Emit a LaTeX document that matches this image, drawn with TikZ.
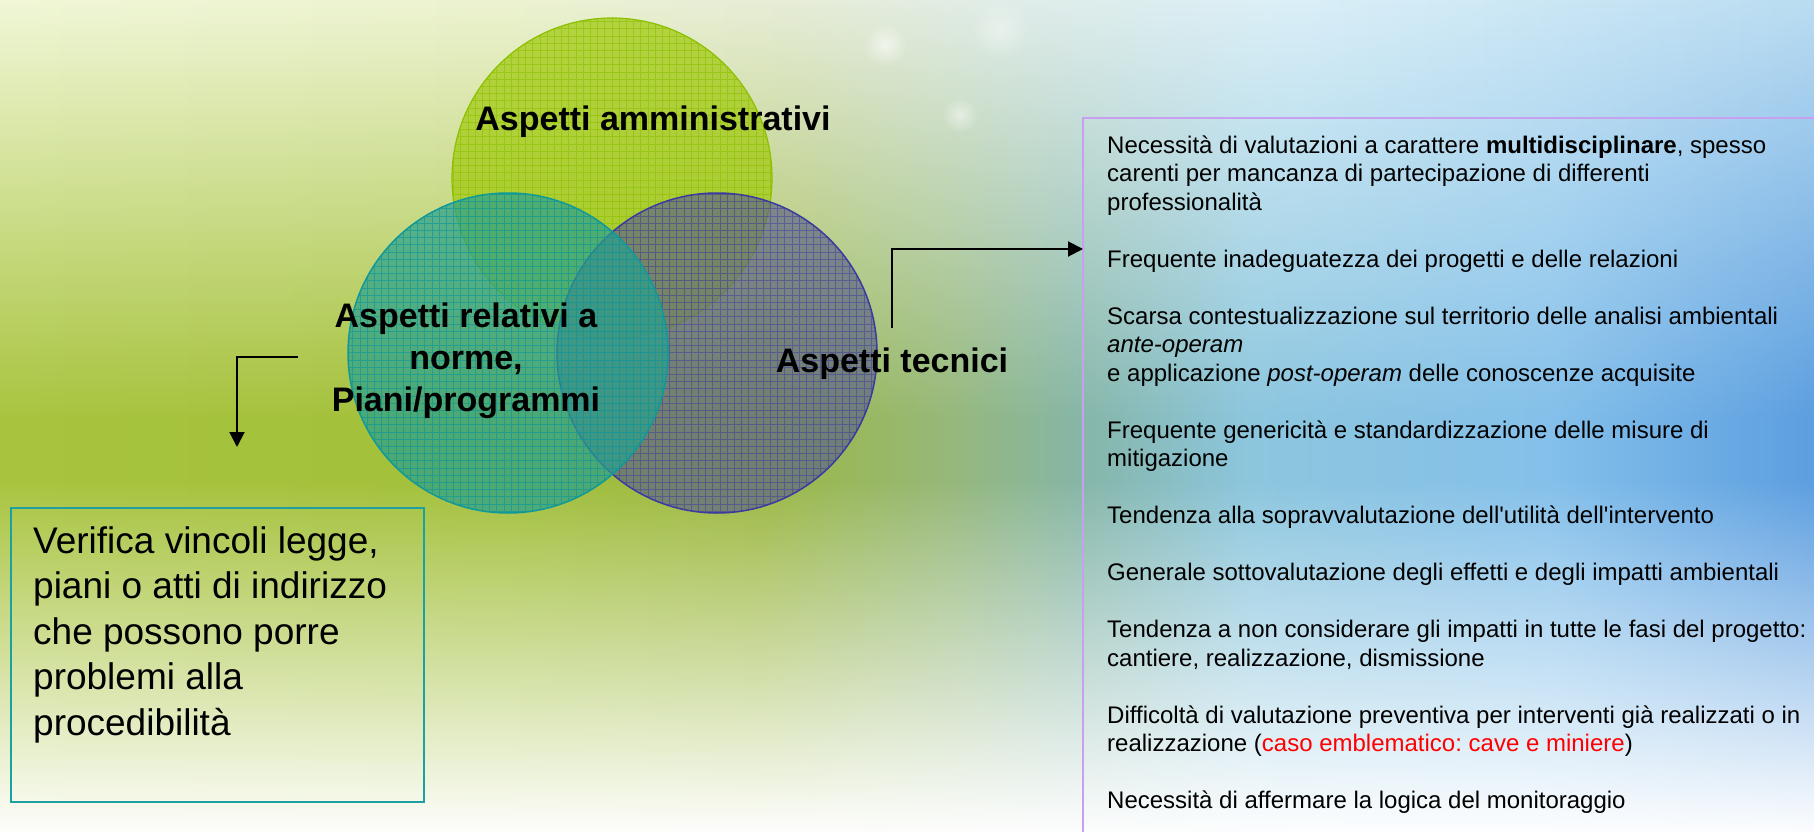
\documentclass[tikz,border=0pt]{standalone}
\usepackage{fontspec}
\setmainfont{Liberation Sans}
\usetikzlibrary{arrows.meta,fadings}
\frenchspacing
\tikzfading[name=fadetopdown, top color=transparent!0, bottom color=transparent!100]
\tikzfading[name=fadebottomup, top color=transparent!100, bottom color=transparent!0]
\tikzfading[name=softdot, inner color=transparent!0, outer color=transparent!100]
\definecolor{bg0}{HTML}{A8C43E}
\definecolor{bg1}{HTML}{A2C03A}
\definecolor{bg2}{HTML}{9CB842}
\definecolor{bg3}{HTML}{96B87A}
\definecolor{bg4}{HTML}{86B6A8}
\definecolor{bg5}{HTML}{8CC6DE}
\definecolor{bg6}{HTML}{84C0EA}
\definecolor{bg7}{HTML}{5C9EE0}
\definecolor{tp0}{HTML}{F2F8DA}
\definecolor{tp1}{HTML}{EEF4D4}
\definecolor{tp2}{HTML}{E8EEDA}
\definecolor{tp3}{HTML}{E2EEEA}
\definecolor{tp4}{HTML}{DCF0F8}
\definecolor{tp5}{HTML}{BCDEF2}
\pgfdeclarehorizontalshading{bgh}{100bp}{%
  color(0bp)=(bg0); color(27.48bp)=(bg0); color(39.90bp)=(bg1); color(46.35bp)=(bg2);
  color(51.07bp)=(bg3); color(54.30bp)=(bg4); color(58.52bp)=(bg5);
  color(65.96bp)=(bg6); color(72.52bp)=(bg7); color(100bp)=(bg7)}
\pgfdeclarehorizontalshading{tph}{100bp}{%
  color(0bp)=(tp0); color(27.48bp)=(tp0); color(39.90bp)=(tp1); color(47.34bp)=(tp2);
  color(52.30bp)=(tp3); color(59.75bp)=(tp4); color(72.52bp)=(tp5); color(100bp)=(tp5)}
\definecolor{ctop}{HTML}{A6CC1E}
\definecolor{ctopline}{HTML}{8CC000}
\definecolor{cleft}{HTML}{28A08C}
\definecolor{cleftline}{HTML}{119999}
\definecolor{cright}{HTML}{5C6088}
\definecolor{crightline}{HTML}{3A3AA0}
\definecolor{lboxcol}{HTML}{1EA0A0}
\definecolor{rboxcol}{HTML}{C8A0F0}
\tikzset{
  lbl/.style={font=\bfseries\fontsize{34}{42}\selectfont, text=black, inner sep=0pt},
  arr/.style={line width=2pt, -{Triangle[length=15pt,width=15pt]}},
  ring/.style={circle, minimum size=320pt, inner sep=0pt},
}
\begin{document}
\begin{tikzpicture}[x=1pt,y=-1pt]
\useasboundingbox (0,0) rectangle (1814,832);
% ---------- background ----------
\shade[shading=bgh] (-100,-6) rectangle (1914,838);
\shade[shading=tph, path fading=fadetopdown] (-100,-6) rectangle (1914,420);
\fill[white, path fading=fadebottomup] (-100,480) rectangle (1914,838);
% bokeh spots
\fill[white,opacity=0.6,path fading=softdot] (885,45) circle (22);
\fill[white,opacity=0.5,path fading=softdot] (960,115) circle (18);
\fill[white,opacity=0.4,path fading=softdot] (1000,30) circle (30);
% ---------- circles ----------
\node[ring, fill=ctop, fill opacity=0.8] (ctopc) at (612,178) {};
\begin{scope}
  \clip (612,178) circle (160);
  \draw[ctopline, line width=0.8pt, opacity=0.6] (440,10) grid[step=7.2pt] (790,350);
\end{scope}
\node[ring, draw=ctopline, line width=1.2pt] at (ctopc) {};
\node[ring, fill=cright, fill opacity=0.66] (crightc) at (717,353) {};
\begin{scope}
  \clip (717,353) circle (160);
  \draw[crightline, line width=0.8pt, opacity=0.5] (550,180) grid[step=7.2pt] (890,520);
\end{scope}
\node[ring, draw=crightline, line width=1.5pt] at (crightc) {};
\node[ring, fill=cleft, fill opacity=0.7] (cleftc) at (508,353) {};
\begin{scope}
  \clip (508,353) circle (160);
  \draw[cleftline, line width=0.8pt, opacity=0.7] (340,180) grid[step=7.2pt] (680,520);
\end{scope}
\node[ring, draw=cleftline, line width=1.5pt] at (cleftc) {};
% ---------- labels ----------
\node[lbl, anchor=base] (aamm) at (653,131) {Aspetti amministrativi};
\node[lbl, anchor=base] (atec) at (892,372) {Aspetti tecnici};
\node[lbl, align=center, anchor=north] (arel) at (466,297)
  {\rule{0pt}{30pt}Aspetti relativi a\\ norme,\\ Piani/programmi};
% ---------- boxes ----------
\node[draw=lboxcol, line width=2pt, minimum width=413pt, minimum height=294pt,
      anchor=north west, inner sep=0pt] (lbox) at (10,507) {};
\node[font=\fontsize{37}{45.5}\selectfont, align=left, anchor=north west, inner sep=0pt]
  (ltext) at (33,521)
  {\rule{0pt}{32pt}Verifica vincoli legge,\\ piani o atti di indirizzo\\ che possono porre\\ problemi alla\\ procedibilità};
\coordinate (rboxcorner) at (1083,118);
\draw[rboxcol, line width=2pt] (1083,900) -- (rboxcorner) -- (1900,118);
\node[font=\fontsize{24}{28.5}\selectfont, align=left, anchor=north west, inner sep=0pt]
  (rtext) at (1107,131)
  {\rule{0pt}{22pt}Necessità di valutazioni a carattere \textbf{multidisciplinare}, spesso\\
   carenti per mancanza di partecipazione  di differenti\\
   professionalità\\[28.5pt]
   Frequente inadeguatezza dei progetti e delle relazioni\\[28.5pt]
   Scarsa contestualizzazione sul territorio delle analisi ambientali\\
   \textit{ante-operam}\\
   e applicazione \textit{post-operam} delle conoscenze acquisite\\[28.5pt]
   Frequente genericità e standardizzazione delle misure di\\
   mitigazione\\[28.5pt]
   Tendenza alla sopravvalutazione dell\textquotesingle utilità dell\textquotesingle intervento\\[28.5pt]
   Generale sottovalutazione degli effetti e degli impatti ambientali\\[28.5pt]
   Tendenza a non considerare gli impatti in tutte le fasi del progetto:\\
   cantiere, realizzazione, dismissione\\[28.5pt]
   Difficoltà di valutazione preventiva per interventi già realizzati o in\\
   realizzazione (\textcolor{red}{caso emblematico: cave e miniere})\\[28.5pt]
   Necessità di affermare la logica del monitoraggio};
% ---------- connectors ----------
\coordinate (rtstart) at (892,328);
\coordinate (rtbend) at (892,249);
\draw[arr] (rtstart) -- (rtbend) -- (rtbend -| rboxcorner);
\coordinate (ltstart) at (298,357);
\coordinate (ltend) at (237,447);
\draw[arr] (ltstart) -| (ltend);
\end{tikzpicture}
\end{document}
